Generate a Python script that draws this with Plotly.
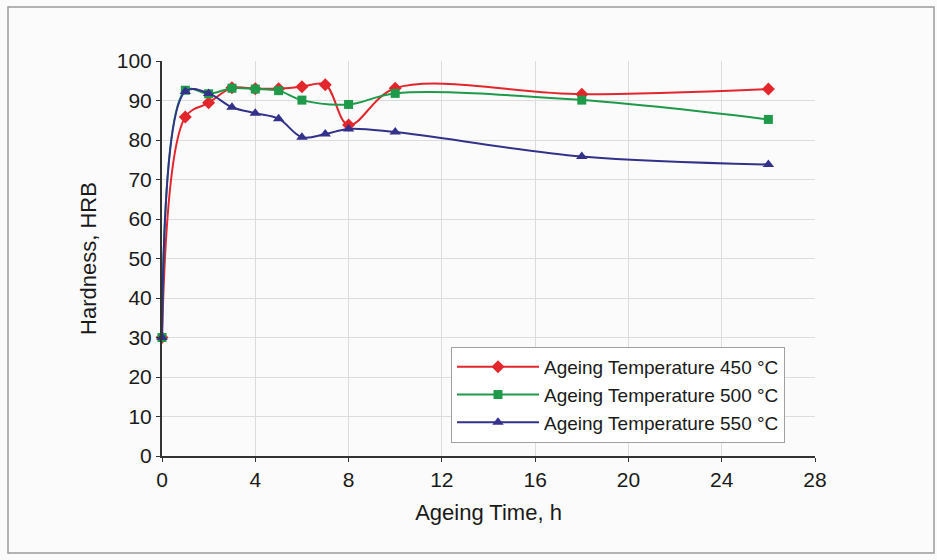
import plotly.graph_objects as go

# Hardness vs ageing time for three ageing temperatures
hours_450 = [0, 1, 2, 3, 4, 5, 6, 7, 8, 10, 18, 26]
hrb_450 = [30, 85.8, 89.4, 93.2, 93.0, 93.0, 93.5, 94.0, 83.8, 93.1, 91.6, 92.9]

hours_500 = [0, 1, 2, 3, 4, 5, 6, 8, 10, 18, 26]
hrb_500 = [30, 92.6, 91.7, 93.1, 92.9, 92.5, 90.1, 89.0, 91.8, 90.1, 85.2]

hours_550 = [0, 1, 2, 3, 4, 5, 6, 7, 8, 10, 18, 26]
hrb_550 = [30, 92.3, 91.8, 88.3, 86.8, 85.4, 80.7, 81.5, 82.8, 82.0, 75.8, 73.8]

names = ["Ageing Temperature 450 °C", "Ageing Temperature 500 °C", "Ageing Temperature 550 °C"]
colors = ["#e3262c", "#1e9a4a", "#33318a"]
symbols = ["diamond", "square", "triangle-up"]
sizes = [10, 9, 10]

x_ticks = [0, 4, 8, 12, 16, 20, 24, 28]
y_ticks = [0, 10, 20, 30, 40, 50, 60, 70, 80, 90, 100]

FONT = "Liberation Sans, Arial, sans-serif"

fig = go.Figure()
for xs, ys, name, c, s, sz in zip(
    [hours_450, hours_500, hours_550],
    [hrb_450, hrb_500, hrb_550],
    names, colors, symbols, sizes,
):
    fig.add_trace(go.Scatter(
        x=xs, y=ys, name=name, mode="lines+markers",
        line=dict(color=c, width=2, shape="spline", smoothing=1.0),
        marker=dict(symbol=s, size=sz, color=c),
        cliponaxis=False,
    ))

# plot-area geometry in pixels
L, R, T, B = 162, 122, 61, 104
W, H = 937 - L - R, 560 - T - B

def px_x(p):
    return (p - L) / W

def px_y(p):
    return (560 - B - p) / H

# outer frame around the whole figure
fig.add_shape(type="rect", xref="paper", yref="paper",
              x0=px_x(8), x1=px_x(934), y0=px_y(553), y1=px_y(7),
              line=dict(color="#9a9a9a", width=1.5), fillcolor="rgba(0,0,0,0)",
              layer="below")

fig.update_layout(
    width=937, height=560,
    margin=dict(l=L, r=R, t=T, b=B),
    paper_bgcolor="#fbfbfb",
    plot_bgcolor="#fbfbfb",
    font=dict(family=FONT, size=20, color="#1a1a1a"),
    showlegend=True,
    legend=dict(
        x=px_x(451), y=px_y(347), xanchor="left", yanchor="top",
        bgcolor="#ffffff", bordercolor="#a0a0a0", borderwidth=1,
        font=dict(family=FONT, size=19, color="#1a1a1a"),
        itemwidth=82, tracegroupgap=0,
    ),
    xaxis=dict(
        range=[0, 28], tickvals=x_ticks, ticktext=[str(v) for v in x_ticks],
        showgrid=True, gridcolor="#dcdcdc", gridwidth=1,
        showline=True, linecolor="#333333", linewidth=2,
        ticks="outside", ticklen=4, tickcolor="#333333",
        zeroline=False,
        title=dict(text="Ageing Time, h", font=dict(family=FONT, size=22), standoff=14),
        tickfont=dict(family=FONT, size=21),
    ),
    yaxis=dict(
        range=[0, 100], tickvals=y_ticks, ticktext=[str(v) for v in y_ticks],
        showgrid=True, gridcolor="#dcdcdc", gridwidth=1,
        showline=True, linecolor="#333333", linewidth=2,
        ticks="outside", ticklen=4, tickcolor="#333333",
        zeroline=False,
        title=dict(text="Hardness, HRB", font=dict(family=FONT, size=22), standoff=14),
        tickfont=dict(family=FONT, size=21),
    ),
)

fig.write_html("out.html")
